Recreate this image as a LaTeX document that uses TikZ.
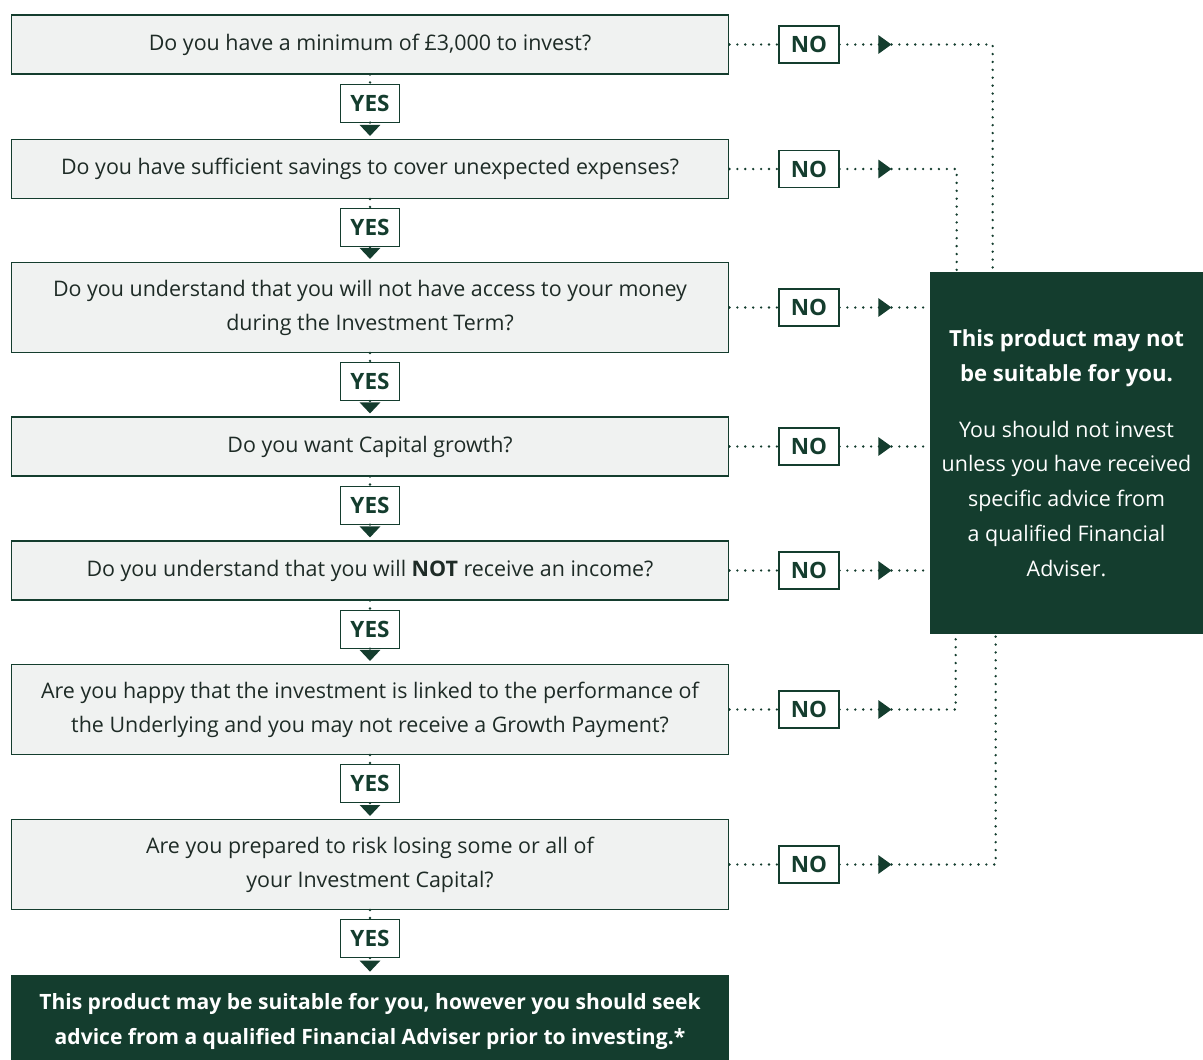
\documentclass[tikz,border=0pt]{standalone}
\usepackage{fontspec}
\setmainfont{Open Sans}
\usetikzlibrary{arrows.meta,positioning}
\definecolor{darkgreen}{HTML}{143D2E}
\definecolor{boxgrey}{HTML}{F0F2F1}
\definecolor{textgrey}{HTML}{1E2B26}
\newcommand{\headbold}[1]{{\fontsize{12.6}{19.8}\selectfont\bfseries #1}}

\begin{document}
\begin{tikzpicture}[x=0.02cm, y=-0.02cm]

  \tikzset{question/.style={rectangle, draw=darkgreen, fill=boxgrey,
  		line width=0.6pt, text=textgrey, align=center,
  		minimum width=14.36cm, minimum height=1.18cm,
  		font=\fontsize{12.2}{19.3}\selectfont}, }
  \tikzset{tall/.style={minimum height=1.8cm}, }
  \tikzset{answer/.style={rectangle, draw=darkgreen, fill=white,
  		line width=0.6pt, text=darkgreen, inner sep=0pt,
  		minimum width=1.18cm, minimum height=0.76cm,
  		font=\fontsize{12.8}{14}\selectfont\bfseries}, }
  \tikzset{verdict/.style={rectangle, fill=darkgreen, text=white,
  		align=center, inner sep=0pt}, }
  \tikzset{dots/.style={darkgreen, line width=1.5pt,
  		dash pattern=on 0pt off 4.5pt, line cap=round}, }
  \tikzset{yesline/.style={dots, -{Triangle[length=0.22cm, width=0.4cm]},
  		shorten >=0.06cm}, }
  \tikzset{noline/.style={dots, -{Triangle[length=0.26cm, width=0.36cm]}}, }

  \useasboundingbox (0,0) rectangle (1203,1059);

    \node[question] (q1) at (370,44.5) {Do you have a minimum of £3,000 to invest?};
    \node[question] (q2) at (370,169) {Do you have sufficient savings to cover unexpected expenses?};
    \node[question, tall] (q3) at (370,307.5) {Do you understand that you will not have access to your money\\during the Investment Term?};
    \node[question] (q4) at (370,446.5) {Do you want Capital growth?};
    \node[question] (q5) at (370,570.5) {Do you understand that you will \textbf{NOT} receive an income?};
    \node[question, tall] (q6) at (370,709.5) {Are you happy that the investment is linked to the performance of\\the Underlying and you may not receive a Growth Payment?};
    \node[question, tall] (q7) at (370,864.5) {Are you prepared to risk losing some or all of\\your Investment Capital?};
    \node[verdict, minimum width=14.36cm, minimum height=1.86cm,
      font=\fontsize{12}{19.8}\selectfont\bfseries] (ok) at (370,1021.5)
      {This product may be suitable for you, however you should seek\\advice from a qualified Financial Adviser prior to investing.*};

    \node[verdict, minimum width=5.46cm, minimum height=7.24cm,
      font=\fontsize{12.2}{19.8}\selectfont] (sink) at (1066.5,453)
      {\headbold{This product may not}\\\headbold{be suitable for you.}\\[12pt]
       You should not invest\\unless you have received\\specific advice from\\a qualified Financial\\Adviser.};

    \foreach \i in {1,...,7}
      \node[answer] (y\i) [below=0.18cm of q\i] {YES};
    \foreach \i in {1,...,7}
      \node[answer, minimum width=1.2cm, minimum height=0.74cm] (n\i) [right=0.98cm of q\i] {NO};
    \foreach \i in {1,...,7}
      \coordinate (t\i) at ([xshift=1.04cm]n\i.east);

    \coordinate (c1) at ([xshift=1.26cm]sink.north west);
    \coordinate (c2) at ([xshift=0.54cm]sink.north west);
    \coordinate (c6) at ([xshift=0.52cm]sink.south west);
    \coordinate (c7) at ([xshift=1.32cm]sink.south west);

\foreach \x /\y in {q1/y1,q2/y2,q3/y3,q4/y4,q5/y5,q6/y6,q7/y7}
  \draw[dots] (\x) -- (\y);
\foreach \x /\y in {y1/q2,y2/q3,y3/q4,y4/q5,y5/q6,y6/q7,y7/ok}
  \draw[yesline] (\x) -- (\y);
\foreach \i in {1,...,7} {
  \draw[dots] (q\i) -- (n\i);
  \draw[noline] (n\i) -- (t\i);
}
\foreach \i in {1,2,6,7}
  \draw[dots] (t\i) -| (c\i);
\foreach \i in {3,4,5}
  \draw[dots] (t\i) -- (t\i -| sink.west);
%%
\end{tikzpicture}
\end{document}
